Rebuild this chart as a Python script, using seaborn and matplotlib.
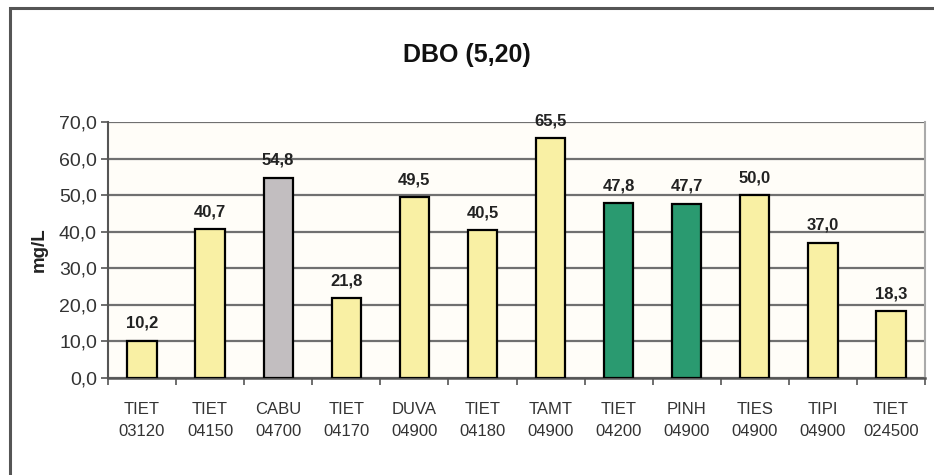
import matplotlib
matplotlib.use("Agg")
import matplotlib.pyplot as plt
import matplotlib.font_manager as fm
from matplotlib.patches import Rectangle
from matplotlib.ticker import FixedLocator, FuncFormatter
import seaborn as sns
import pandas as pd

# Monitoring points and BOD (5,20) results
stations = ["TIET\n03120", "TIET\n04150", "CABU\n04700", "TIET\n04170", "DUVA\n04900",
            "TIET\n04180", "TAMT\n04900", "TIET\n04200", "PINH\n04900", "TIES\n04900",
            "TIPI\n04900", "TIET\n024500"]
dbo_values = [10.2, 40.7, 54.8, 21.8, 49.5, 40.5, 65.5, 47.8, 47.7, 50.0, 37.0, 18.3]
bar_colors = ["#f9f0a4", "#f9f0a4", "#c2bec0", "#f9f0a4", "#f9f0a4", "#f9f0a4",
              "#f9f0a4", "#2a9a70", "#2a9a70", "#f9f0a4", "#f9f0a4", "#f9f0a4"]
y_ticks = [0, 10, 20, 30, 40, 50, 60, 70]

sns.set_theme(style="white")
names = {f.name for f in fm.fontManager.ttflist}
family = "Liberation Sans Narrow" if "Liberation Sans Narrow" in names else "Liberation Sans"
plt.rcParams["font.family"] = [family, "DejaVu Sans"]

df = pd.DataFrame({"station": stations, "dbo": dbo_values})

fig = plt.figure(figsize=(9.34, 4.75), dpi=100)
fig.patch.set_facecolor("white")
ax = fig.add_axes([108 / 934, 1 - 378 / 475, (925 - 108) / 934, (378 - 122) / 475])
ax.set_facecolor("#fffdf8")

sns.barplot(data=df, x="station", y="dbo", hue="station", palette=bar_colors,
            legend=False, width=0.43, edgecolor="black", linewidth=1.6,
            saturation=1, ax=ax, zorder=3)

ax.set_ylim(0, 70)
ax.set_xlim(-0.5, len(stations) - 0.5)
ax.yaxis.set_major_locator(FixedLocator(y_ticks))
ax.yaxis.set_major_formatter(FuncFormatter(lambda v, p: f"{v:.1f}".replace(".", ",")))
ax.grid(axis="y", color="#707070", linewidth=1.6, zorder=0)
ax.set_axisbelow(True)

# category tick marks sit on the boundaries between stations
ax.set_xticks(range(len(stations)))
ax.set_xticklabels(stations, fontsize=12, color="#333333", linespacing=1.6)
ax.tick_params(axis="x", length=0, pad=17)
ax.set_xticks([i - 0.5 for i in range(len(stations) + 1)], minor=True)
ax.tick_params(axis="x", which="minor", length=5, width=1.2, color="#555555",
               direction="out", bottom=True)
ax.tick_params(axis="y", length=5, width=1.2, color="#555555", direction="out",
               left=True, labelsize=14, labelcolor="#333333", pad=3)

ax.spines["top"].set_visible(False)
ax.spines["left"].set_color("#555555")
ax.spines["left"].set_linewidth(1.5)
ax.spines["bottom"].set_color("#555555")
ax.spines["bottom"].set_linewidth(1.8)
ax.spines["right"].set_color("#aaaaaa")
ax.spines["right"].set_linewidth(1.5)

ax.set_xlabel("")
ax.set_ylabel("mg/L", fontsize=13.5, fontweight="bold", color="#222222", labelpad=8)

for container in ax.containers:
    ax.bar_label(container, labels=[f"{v:.1f}".replace(".", ",") for v in container.datavalues],
                 padding=7, fontsize=12, fontweight="bold", color="#222222")

fig.text(0.5, 1 - 55 / 475, "DBO (5,20)", ha="center", va="center",
         fontsize=18, fontweight="bold", color="#111111")

# chart border
fig.patches.append(Rectangle((10 / 934, -0.05), 1.0, 1 - 8 / 475 + 0.05,
                             transform=fig.transFigure, fill=False,
                             edgecolor="#555555", linewidth=2.2))

fig.savefig("out.png", dpi=100, facecolor="white")
